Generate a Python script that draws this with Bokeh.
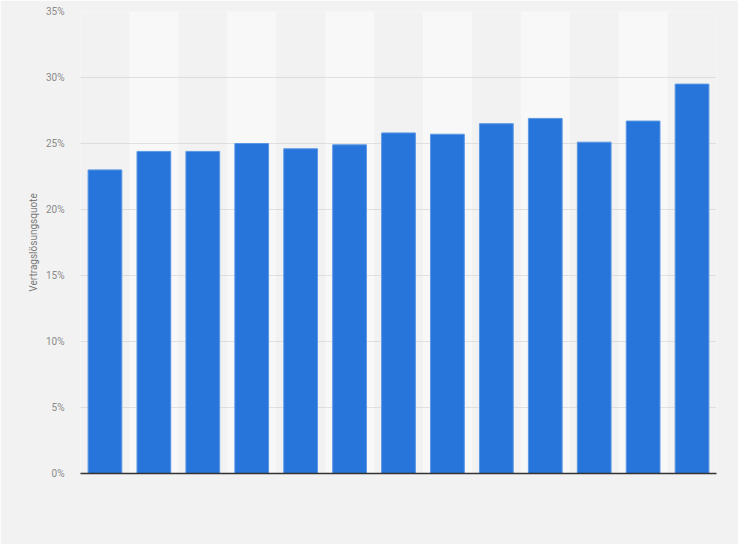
from bokeh.plotting import figure
from bokeh.models import Range1d, FixedTicker, PrintfTickFormatter
from bokeh.embed import file_html
from bokeh.resources import INLINE

categories = ["2010", "2011", "2012", "2013", "2014", "2015", "2016",
              "2017", "2018", "2019", "2020", "2021", "2022"]
values = [23.0, 24.4, 24.4, 25.0, 24.6, 24.9, 25.8, 25.7, 26.5, 26.9, 25.1, 26.7, 29.5]
y_ticks = [0, 5, 10, 15, 20, 25, 30, 35]
y_label = "Vertragslösungsquote"

Y_MAX = 35
BG = "#f2f2f2"

p = figure(width=738, height=544, x_range=categories, y_range=Range1d(0, Y_MAX),
           output_backend="svg", toolbar_location=None,
           min_border_left=80, min_border_right=22, min_border_top=11, min_border_bottom=71)
p.background_fill_color = BG
p.border_fill_color = BG
p.outline_line_color = None
p.x_range.range_padding = 0

# alternating column bands (drawn beneath the grid)
band_cats = categories[1::2]
bands = p.vbar(x=band_cats, top=[Y_MAX] * len(band_cats), width=1.0,
               fill_color="#f8f8f8", line_color=None)
bands.level = "image"

p.vbar(x=categories, top=values, width=0.69,
       fill_color="#2775da", line_color="#5b97e4", line_width=1)

p.xgrid.grid_line_color = None
p.ygrid.grid_line_color = "#c8c8c8"
p.ygrid.grid_line_dash = "1 1"
p.ygrid.grid_line_width = 1
p.ygrid.ticker = FixedTicker(ticks=y_ticks)

p.yaxis.ticker = FixedTicker(ticks=y_ticks)
p.yaxis.formatter = PrintfTickFormatter(format="%d%%")
p.yaxis.axis_line_color = None
p.yaxis.major_tick_line_color = None
p.yaxis.minor_tick_line_color = None
p.yaxis.major_label_text_font = "Roboto"
p.yaxis.major_label_text_font_size = "10px"
p.yaxis.major_label_text_color = "#8a8a8a"
p.yaxis.major_label_standoff = 10
p.yaxis.axis_label = y_label
p.yaxis.axis_label_text_font = "Roboto"
p.yaxis.axis_label_text_font_size = "10px"
p.yaxis.axis_label_text_font_style = "normal"
p.yaxis.axis_label_text_color = "#7a7a7a"
p.yaxis.axis_label_standoff = 4

p.xaxis.axis_line_color = "#333333"
p.xaxis.axis_line_width = 1.5
p.xaxis.major_tick_line_color = None
p.xaxis.minor_tick_line_color = None
p.xaxis.major_label_text_color = None
p.xaxis.major_label_text_font_size = "1px"

open("out.html", "w").write(file_html(p, INLINE))
